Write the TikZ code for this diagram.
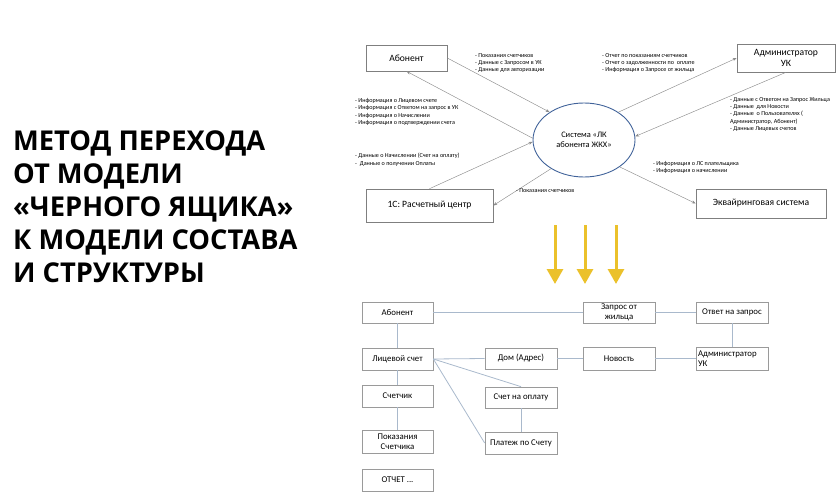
\documentclass[tikz,border=0pt]{standalone}
\usepackage{fontspec}
\setmainfont{Carlito}
\newfontfamily\titlefont{Open Sans}
\usetikzlibrary{arrows.meta,shapes.geometric}
\definecolor{boxgray}{HTML}{7F7F7F}
\definecolor{arrgray}{HTML}{8C8C8C}
\definecolor{ellblue}{HTML}{41639A}
\definecolor{linkblue}{HTML}{A9B9CC}
\definecolor{gold}{HTML}{EBC12B}
\definecolor{bbox}{HTML}{9A9A9A}
\tikzset{
  topbox/.style={draw=boxgray,line width=0.6pt,inner sep=0pt,font=\fontsize{9.6}{11}\selectfont,align=center},
  flow/.style={draw=arrgray,line width=0.45pt,-{Stealth[length=4pt,width=3pt]}},
  lbl/.style={anchor=north west,inner sep=0pt,align=left,font=\fontsize{6.1}{7.4}\selectfont},
  botbox/.style={draw=bbox,line width=0.7pt,inner sep=0pt,minimum width=71pt,font=\fontsize{8.8}{10}\selectfont,align=center},
  link/.style={draw=linkblue,line width=0.8pt},
  goldarrow/.style={draw=gold,line width=3pt,-{Triangle[length=15pt,width=16pt]}},
  ttl/.style={anchor=base west,inner sep=0pt,font=\titlefont\bfseries\fontsize{27.3}{33}\selectfont}
}
\begin{document}
\begin{tikzpicture}[x=1pt,y=-1pt]
\useasboundingbox (0,0) rectangle (839,498);
% title
\node[ttl] (t1) at (13,150) {МЕТОД ПЕРЕХОДА};
\node[ttl] (t2) at (13,183) {ОТ МОДЕЛИ};
\node[ttl] (t3) at (13,216) {«ЧЕРНОГО ЯЩИКА»};
\node[ttl] (t4) at (13,249) {К МОДЕЛИ СОСТАВА};
\node[ttl] (t5) at (13,282) {И СТРУКТУРЫ};
% top diagram
\node[topbox,minimum width=81pt,minimum height=26pt] (ab) at (406.5,58) {Абонент};
\node[topbox,minimum width=98pt,minimum height=28pt] (adm) at (786,58) {Администратор\\УК};
\node[ellipse,draw=ellblue,line width=0.9pt,minimum width=102pt,minimum height=74pt,inner sep=0pt,align=center,font=\fontsize{8.4}{9.5}\selectfont] (ell) at (584,140) {Система «ЛК\\абонента ЖКХ»};
\node[topbox,minimum width=127pt,minimum height=33pt] (rc) at (429.5,205.5) {1С: Расчетный центр};
\node[topbox,minimum width=130pt,minimum height=29pt] (eq) at (761,203.5) {Эквайринговая система};
\draw[flow] (ab.east) -- (ell.141);
\draw[flow] (ell.178) -- (ab.south);
\draw[flow] (ell.39) -- (adm.west);
\draw[flow] (adm.south) -- (ell.4);
\draw[flow] (rc.north) -- (ell.182);
\draw[flow] (ell.221) -- (rc.east);
\draw[flow] (ell.-37) -- (eq.west);
\node[lbl] (l1) at (475,53) {- Показания счетчиков\\- Данные с Запросом в УК\\- Данные для авторизации};
\node[lbl] (l2) at (355,98) {- Информация о Лицевом счете\\- Информация с Ответом на запрос в УК\\- Информация о Начислении\\- Информация о подтверждении счета};
\node[lbl] (l3) at (602,53) {- Отчет по показаниям счетчиков\\- Отчет о задолженности по\ \ оплате\\- Информация о Запросе от жильца};
\node[lbl] (l4) at (730,97) {- Данные с Ответом на Запрос Жильца\\- Данные\ \ для Новости\\- Данные\ \ о Пользователях (\\Администратор, Абонент)\\- Данные Лицевых счетов};
\node[lbl] (l5) at (355,153) {- Данные о Начислении (Счет на оплату)\\-\ \ Данные о получении Оплаты};
\node[lbl] (l6) at (516,188) {- Показания счетчиков};
\node[lbl] (l7) at (653,161) {- Информация о ЛС плательщика\\- Информация о начислении};
% gold arrows
\coordinate (ga1) at (555,225); \coordinate (gb1) at (555,284);
\coordinate (ga2) at (585,225); \coordinate (gb2) at (585,284);
\coordinate (ga3) at (616,225); \coordinate (gb3) at (616,284);
\draw[goldarrow] (ga1) -- (gb1);
\draw[goldarrow] (ga2) -- (gb2);
\draw[goldarrow] (ga3) -- (gb3);
% bottom diagram
\node[botbox,minimum height=21pt] (bab) at (397.5,312.5) {Абонент};
\node[botbox,minimum height=22pt] (bls) at (397.5,359) {Лицевой счет};
\node[botbox,minimum height=22pt] (bsch) at (397.5,396) {Счетчик};
\node[botbox,minimum height=23pt] (bpok) at (397.5,441.5) {Показания\\Счетчика};
\node[botbox,minimum height=22pt] (botch) at (397.5,480) {ОТЧЕТ ...};
\node[botbox,minimum width=72pt,minimum height=21pt] (bdom) at (521,358.5) {Дом (Адрес)};
\node[botbox,minimum width=72pt,minimum height=21pt] (bschop) at (521,397.5) {Счет на оплату};
\node[botbox,minimum width=72pt,minimum height=22pt] (bplat) at (521,443) {Платеж по Счету};
\node[botbox,minimum width=72pt,minimum height=21pt] (bzap) at (619,312.5) {Запрос от\\жильца};
\node[botbox,minimum width=72pt,minimum height=21pt] (botv) at (732,312.5) {Ответ на запрос};
\node[botbox,minimum width=72pt,minimum height=23pt] (bnov) at (619,358.5) {Новость};
\node[botbox,minimum width=72pt,minimum height=23pt,align=left,text width=68pt] (badm) at (732,358.5) {Администратор\\УК};
\draw[link] (bab.east) -- (bzap.west);
\draw[link] (bzap.east) -- (botv.west);
\draw[link] (bab.south) -- (bls.north);
\draw[link] (bls.south) -- (bsch.north);
\draw[link] (bsch.south) -- (bpok.north);
\draw[link] (bls.east) -- (bdom.west);
\draw[link] (bdom.east) -- (bnov.west);
\draw[link] (bnov.east) -- (badm.west);
\draw[link] (botv.south) -- (badm.north);
\draw[link] (bls.east) -- (bschop.north);
\draw[link] (bls.east) -- (bplat.west);
\draw[link] (bschop.south) -- (bplat.north);
\end{tikzpicture}
\end{document}
